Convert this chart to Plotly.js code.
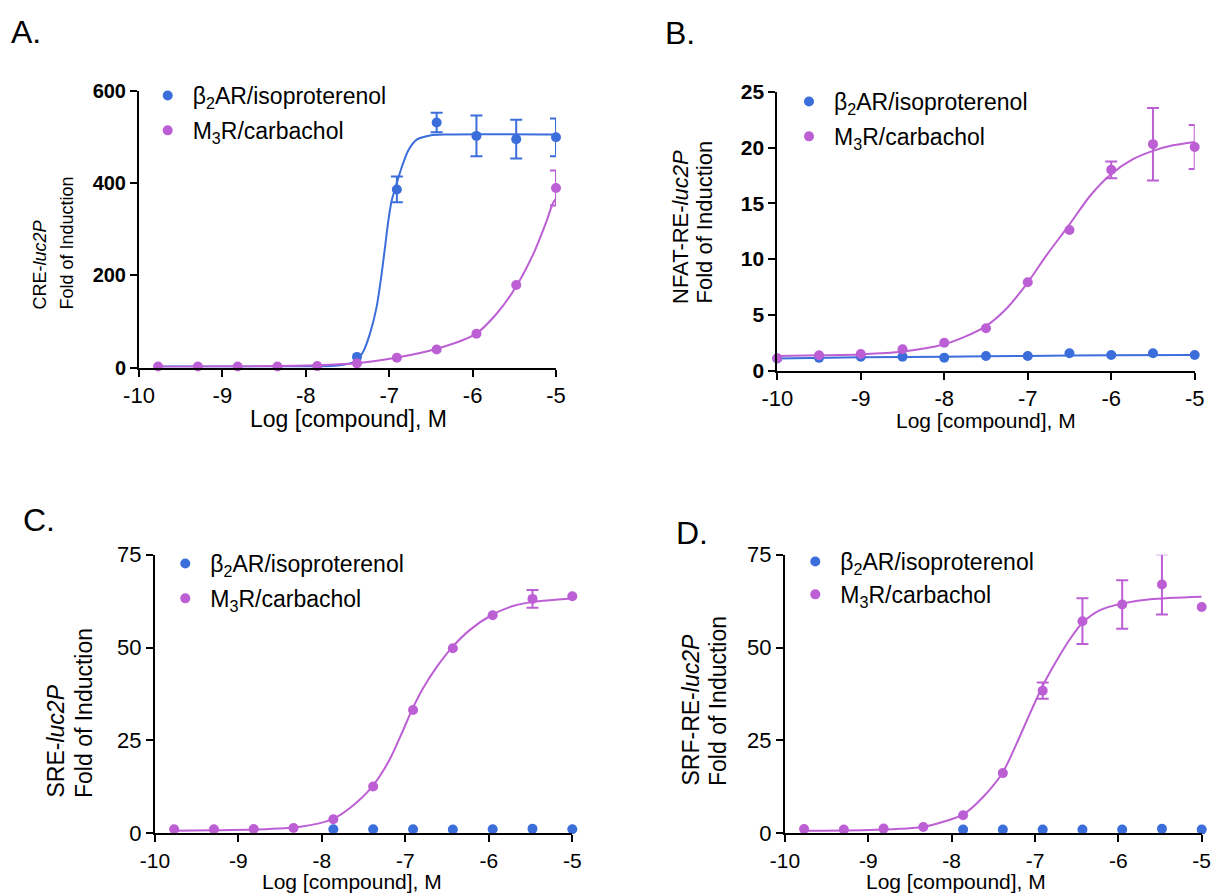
<!DOCTYPE html>
<html>
<head>
<meta charset="utf-8">
<script src="https://cdn.plot.ly/plotly-3.0.1.min.js"></script>
<style>
  html, body { margin: 0; padding: 0; background: #fff; }
  #chart { width: 1215px; height: 894px; }
</style>
</head>
<body>
<div id="chart"></div>
<script>
// ---------------- DATA ----------------
// 3-fold dilution series (log M) used in panels A, C, D
const logConc3 = [-9.771, -9.294, -8.817, -8.340, -7.863, -7.386, -6.908, -6.431, -5.954, -5.477, -5.0];
// half-log series used in panel B
const logConcHalf = [-10, -9.5, -9, -8.5, -8, -7.5, -7, -6.5, -6, -5.5, -5];

// Panel A: CRE-luc2P   (null = no error bar drawn)
const A_beta_x = [-7.386, -6.908, -6.431, -5.954, -5.477, -5.0];
const A_beta_y = [23, 386, 531, 502, 495, 499];
const A_beta_err = [null, 28, 21, 44, 42, 41];
const A_m3_y = [2, 2, 2, 2, 3, 9, 21, 39, 73, 179, 389];
const A_m3_err = [null, null, null, null, null, null, null, null, null, null, 38];
const A_beta_fit_x = [-9.771, -8.0, -7.7, -7.55, -7.45, -7.39, -7.31, -7.23, -7.15, -7.09, -7.05, -7.01, -6.97, -6.92, -6.85, -6.77, -6.67, -6.51, -6.31, -5.0];
const A_beta_fit_y = [2, 2, 3, 6, 10, 15, 35, 74, 132, 204, 261, 319, 362, 393, 434, 471, 494, 503, 505, 505];
const A_m3_fit_x = [-9.771, -9.0, -8.34, -7.86, -7.39, -6.92, -6.44, -5.96, -5.71, -5.48, -5.27, -5.11, -5.04, -5.0];
const A_m3_fit_y = [1.5, 2, 3, 5, 9, 21, 40, 73, 117, 175, 247, 319, 355, 366];

// Panel B: NFAT-RE-luc2P
const B_beta_y = [1.10, 1.15, 1.25, 1.26, 1.17, 1.32, 1.32, 1.56, 1.41, 1.56, 1.41];
const B_m3_y = [1.11, 1.38, 1.50, 1.92, 2.50, 3.80, 7.92, 12.6, 18.0, 20.3, 20.05];
const B_m3_err = [null, null, null, null, null, null, null, null, 0.75, 3.25, 1.97];
const B_beta_fit_x = [-10, -9, -8, -7, -6, -5];
const B_beta_fit_y = [1.10, 1.20, 1.25, 1.32, 1.38, 1.40];
const B_m3_fit_x = [-10, -9.5, -9, -8.77, -8.51, -8.01, -7.75, -7.51, -7.25, -7.01, -6.77, -6.51, -6.25, -6.02, -5.74, -5.5, -5.26, -5.0];
const B_m3_fit_y = [1.32, 1.38, 1.45, 1.56, 1.70, 2.35, 3.05, 3.95, 5.6, 7.8, 10.4, 13.0, 15.7, 17.5, 18.95, 19.7, 20.2, 20.5];

// Panel C: SRE-luc2P
const C_beta_x = [-7.863, -7.386, -6.908, -6.431, -5.954, -5.477, -5.0];
const C_beta_y = [1.1, 1.1, 1.1, 1.0, 1.1, 1.2, 1.1];
const C_m3_y = [1.08, 1.08, 1.17, 1.43, 3.77, 12.6, 33.2, 49.8, 58.7, 63.1, 63.8];
const C_m3_err = [null, null, null, null, null, null, null, null, null, 2.4, null];
const C_m3_fit_x = [-9.771, -9.3, -8.82, -8.26, -7.88, -7.66, -7.40, -7.19, -7.03, -6.92, -6.79, -6.63, -6.45, -6.23, -5.97, -5.71, -5.47, -5.0];
const C_m3_fit_y = [0.7, 0.8, 1.0, 1.78, 3.77, 6.9, 12.5, 19.8, 27.6, 33.3, 39.0, 44.6, 49.8, 54.7, 58.7, 61.2, 62.3, 63.2];

// Panel D: SRF-RE-luc2P
const D_beta_x = [-7.863, -7.386, -6.908, -6.431, -5.954, -5.477, -5.0];
const D_beta_y = [1.0, 1.0, 1.0, 1.0, 1.0, 1.2, 1.0];
const D_m3_y = [1.17, 0.99, 1.26, 1.7, 4.84, 16.2, 38.4, 57.1, 61.6, 67.0, 60.9];
const D_m3_err = [null, null, null, null, null, null, 2.2, 6.15, 6.55, 8.1, null];
const D_m3_fit_x = [-9.771, -9.29, -8.82, -8.62, -8.35, -8.10, -7.86, -7.62, -7.39, -7.22, -7.06, -6.91, -6.74, -6.58, -6.43, -6.22, -5.94, -5.62, -5.0];
const D_m3_fit_y = [0.7, 0.75, 1.0, 1.2, 1.7, 3.1, 5.1, 9.85, 16.3, 24.2, 32.3, 39.6, 46.5, 52.3, 56.7, 60.1, 61.9, 63.0, 63.7];

const seriesNames = ['β<sub>2</sub>AR/isoproterenol', 'M<sub>3</sub>R/carbachol'];
const xTickVals = [-10, -9, -8, -7, -6, -5];
const xTickText = ['-10', '-9', '-8', '-7', '-6', '-5'];
const xTitle = 'Log [compound], M';
const yTitles = [
  ['CRE-<i>luc2P</i>', 'Fold of Induction'],
  ['NFAT-RE-<i>luc2P</i>', 'Fold of Induction'],
  ['SRE-<i>luc2P</i>', 'Fold of Induction'],
  ['SRF-RE-<i>luc2P</i>', 'Fold of Induction']
];
const panelLetters = ['A.', 'B.', 'C.', 'D.'];
const yRanges = [[0, 600], [0, 25], [0, 75], [0, 75]];
const yDticks = [200, 5, 25, 25];

// ---------------- STYLE ----------------
const BLUE = '#3b6edb';
const MAG = '#bd5fd4';
const FONT = '"Liberation Sans", Arial, Helvetica, sans-serif';
const W = 1215, H = 894;
const px = v => v / W;
const py = v => 1 - v / H;
const errArr = a => a.map(v => (v === null ? NaN : v));

function pts(x, y, err, color, name, xa, ya, leg) {
  const t = {
    type: 'scatter', mode: 'markers', x: x, y: y, name: name,
    xaxis: xa, yaxis: ya, legend: leg, showlegend: true,
    legendgroup: leg + name,
    cliponaxis: false,
    marker: {color: color, size: 10},
    hoverinfo: 'x+y'
  };
  if (err) {
    t.error_y = {type: 'data', array: errArr(err), visible: true, color: color, thickness: 2, width: 6};
  }
  return t;
}
function fit(x, y, color, xa, ya) {
  return {
    type: 'scatter', mode: 'lines', x: x, y: y, xaxis: xa, yaxis: ya,
    showlegend: false, hoverinfo: 'skip', cliponaxis: false,
    line: {color: color, width: 2, shape: 'spline', smoothing: 0.8}
  };
}

const traces = [
  // A
  fit(A_beta_fit_x, A_beta_fit_y, BLUE, 'x', 'y'),
  pts(A_beta_x, A_beta_y, A_beta_err, BLUE, seriesNames[0], 'x', 'y', 'legend'),
  fit(A_m3_fit_x, A_m3_fit_y, MAG, 'x', 'y'),
  pts(logConc3, A_m3_y, A_m3_err, MAG, seriesNames[1], 'x', 'y', 'legend'),
  // B
  fit(B_beta_fit_x, B_beta_fit_y, BLUE, 'x2', 'y2'),
  pts(logConcHalf, B_beta_y, null, BLUE, seriesNames[0], 'x2', 'y2', 'legend2'),
  fit(B_m3_fit_x, B_m3_fit_y, MAG, 'x2', 'y2'),
  pts(logConcHalf, B_m3_y, B_m3_err, MAG, seriesNames[1], 'x2', 'y2', 'legend2'),
  // C
  pts(C_beta_x, C_beta_y, null, BLUE, seriesNames[0], 'x3', 'y3', 'legend3'),
  fit(C_m3_fit_x, C_m3_fit_y, MAG, 'x3', 'y3'),
  pts(logConc3, C_m3_y, C_m3_err, MAG, seriesNames[1], 'x3', 'y3', 'legend3'),
  // D
  pts(D_beta_x, D_beta_y, null, BLUE, seriesNames[0], 'x4', 'y4', 'legend4'),
  fit(D_m3_fit_x, D_m3_fit_y, MAG, 'x4', 'y4'),
  pts(logConc3, D_m3_y, D_m3_err, MAG, seriesNames[1], 'x4', 'y4', 'legend4')
];

// panel geometry in pixels: [left, right, top, bottom]
const geo = [
  [139, 556, 90.7, 367.5],
  [777.3, 1194.7, 91.7, 370.7],
  [155, 572.3, 554.7, 833.3],
  [785, 1201.7, 554.7, 833.3]
];
const yBold = [true, true, false, false];
const yTickSize = [20, 21, 22, 22];
const xTickSize = [22, 22, 21, 21];

const layout = {
  width: W, height: H,
  margin: {l: 0, r: 0, t: 0, b: 0},
  paper_bgcolor: '#fff', plot_bgcolor: 'rgba(0,0,0,0)',
  font: {family: FONT, color: '#000'},
  showlegend: true,
  annotations: []
};

geo.forEach((g, i) => {
  const k = i === 0 ? '' : String(i + 1);
  layout['xaxis' + k] = {
    domain: [px(g[0]), px(g[1])], range: [-10, -5], anchor: 'y' + k,
    tickmode: 'array', tickvals: xTickVals, ticktext: xTickText,
    ticks: 'outside', ticklen: 7, tickwidth: 2, tickcolor: '#000',
    showline: true, linewidth: 2, linecolor: '#000',
    showgrid: false, zeroline: false, fixedrange: true,
    tickfont: {family: FONT, size: xTickSize[i], color: '#000'}
  };
  layout['yaxis' + k] = {
    domain: [py(g[3]), py(g[2])], range: yRanges[i], anchor: 'x' + k,
    tick0: 0, dtick: yDticks[i],
    ticks: 'outside', ticklen: 7, tickwidth: 2, tickcolor: '#000',
    showline: true, linewidth: 2, linecolor: '#000',
    showgrid: false, zeroline: false, fixedrange: true,
    tickfont: {family: FONT, size: yTickSize[i], color: '#000', weight: yBold[i] ? 700 : 400}
  };
});

// legends
const legPos = [[142.7, 74], [784, 80], [160.3, 542], [790.3, 540]];
const legGap = [2, 2, 2, 0];
['legend', 'legend2', 'legend3', 'legend4'].forEach((L, i) => {
  layout[L] = {
    x: px(legPos[i][0]), y: py(legPos[i][1]), xanchor: 'left', yanchor: 'top',
    bgcolor: 'rgba(0,0,0,0)', borderwidth: 0, itemwidth: 40,
    font: {family: FONT, size: 23, color: '#000'},
    tracegroupgap: legGap[i], itemclick: false, itemdoubleclick: false
  };
});

// panel letters
const letterPos = [[26, 32], [680, 33], [39, 520], [692, 533]];
panelLetters.forEach((t, i) => {
  layout.annotations.push({
    text: t, xref: 'paper', yref: 'paper', x: px(letterPos[i][0]), y: py(letterPos[i][1]),
    xanchor: 'center', yanchor: 'middle', showarrow: false,
    font: {family: FONT, size: 32, color: '#000'}
  });
});

// x titles: [centre x, y, yanchor]
const xTitlePos = [[348, 419, 'middle'], [986, 420, 'middle'], [352, 894, 'bottom'], [956, 894, 'bottom']];
const xTitleSize = [23, 21, 21, 21];
xTitlePos.forEach((p, i) => {
  layout.annotations.push({
    text: xTitle, xref: 'paper', yref: 'paper', x: px(p[0]), y: py(p[1]),
    xanchor: 'center', yanchor: p[2], showarrow: false, borderpad: 0,
    font: {family: FONT, size: xTitleSize[i], color: '#000'}
  });
});

// y titles (two rotated lines, bottom-aligned)
const yTitlePos = [
  [[40, 312], [67, 312]],
  [[680, 306], [704, 306]],
  [[55, 800], [84, 800]],
  [[690, 788], [718, 788]]
];
const yTitleSize = [18, 22, 23, 23];
yTitles.forEach((lines, i) => {
  lines.forEach((t, j) => {
    layout.annotations.push({
      text: t, xref: 'paper', yref: 'paper',
      x: px(yTitlePos[i][j][0]), y: py(yTitlePos[i][j][1]),
      xanchor: 'center', yanchor: 'bottom', textangle: -90, showarrow: false,
      font: {family: FONT, size: yTitleSize[i], color: '#000'}
    });
  });
});

Plotly.newPlot('chart', traces, layout, {displayModeBar: false, staticPlot: true});
</script>
</body>
</html>
